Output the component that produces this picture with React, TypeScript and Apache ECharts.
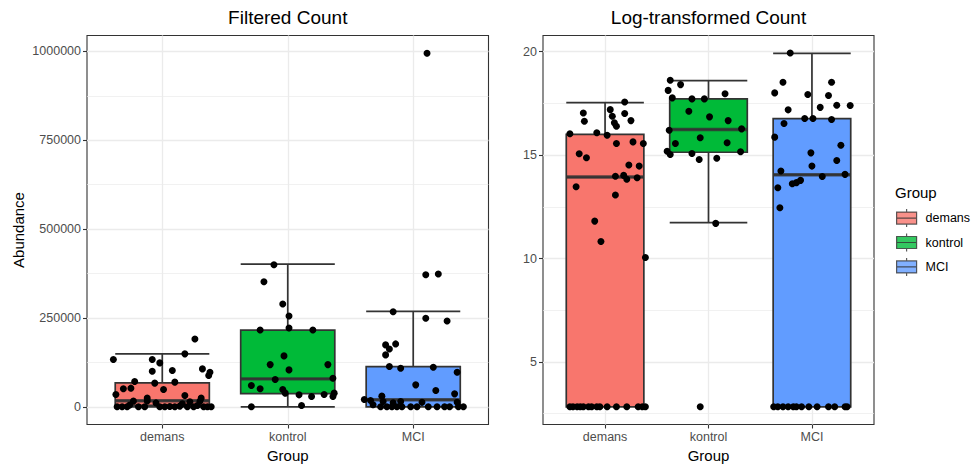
import React, { useEffect, useRef } from 'react';
import * as echarts from 'echarts';

const FONT = '"Liberation Sans", Arial, Helvetica, sans-serif';

const groups = ['demans', 'kontrol', 'MCI'];
const groupColors = ['#F8766D', '#00BA38', '#619CFF'];

// Y axis tick values
const filteredTicks = [0, 250000, 500000, 750000, 1000000];
const filteredMinor = [125000, 375000, 625000, 875000];
const logTicks = [5, 10, 15, 20];
const logMinor = [2.5, 7.5, 12.5, 17.5];

// Axis ranges (data range + 5% expansion)
const filteredRange = [-49750, 1044750];
const logRange = [1.9755, 20.7845];

// Box statistics [lower whisker, Q1, median, Q3, upper whisker]
const filteredBox = [
  [0, 4000, 16900, 67400, 149000],
  [0, 37400, 78700, 216000, 401700],
  [0, 0, 19700, 113000, 268800],
];
const logBox = [
  [2.83, 2.83, 13.94, 16.0, 17.54],
  [11.74, 15.14, 16.24, 17.72, 18.6],
  [2.83, 2.83, 14.05, 16.77, 19.92],
];

// Jittered points: [jitter offset, value]
const filteredDemans = [
  [0.26, 191000], [0.18, 149000], [-0.39, 133000], [-0.08, 133000], [-0.02, 123600],
  [-0.08, 100000], [0.08, 102000], [0.32, 106700], [0.38, 97500], [0.37, 88000],
  [-0.22, 71000], [-0.06, 66600], [0.1, 69400], [-0.31, 50600], [-0.25, 52500],
  [0.01, 48700], [-0.37, 34600], [-0.12, 24400], [0.18, 31800], [0.31, 24400],
  [-0.36, 0], [-0.28, 0], [-0.26, 5000], [-0.23, 16000], [-0.14, 0], [-0.12, 16500],
  [-0.02, 0], [0.02, 0], [0.06, 1000], [0.1, 0], [0.14, 2000], [0.2, 0], [0.22, 14500],
  [0.25, 0], [0.28, 3600], [0.3, 15500], [0.33, 0], [0.36, 0], [-0.32, 0], [-0.19, 0],
  [-0.05, 11000], [0.16, 8600], [0.39, 0],
];
const filteredKontrol = [
  [-0.11, 399700], [-0.19, 352000], [-0.04, 289300], [0.01, 255600], [-0.22, 216300],
  [0.01, 221900], [0.2, 216300], [-0.03, 143300], [-0.14, 118800], [0.01, 103900],
  [0.32, 118800], [-0.1, 76700], [0.36, 80600], [-0.29, 59800], [-0.22, 50600],
  [-0.04, 48600], [-0.02, 38500], [0.09, 33700], [0.19, 28900], [0.29, 34600],
  [0.37, 38500], [0.36, 28900], [-0.29, 0], [0.11, 3700],
];
const filteredMCI = [
  [0.11, 995000], [0.1, 371600], [0.2, 373600], [-0.16, 267700], [0.1, 249100],
  [0.27, 241600], [-0.22, 174200], [-0.14, 177000], [-0.19, 162900], [-0.22, 146100],
  [-0.19, 113200], [-0.1, 108700], [0.16, 111500], [0.35, 97500], [0.02, 61800],
  [0.18, 45800], [0.33, 36500], [-0.39, 20500], [-0.34, 17700], [-0.25, 30000],
  [-0.24, 15000], [-0.32, 5600], [-0.16, 11200], [-0.1, 15000], [0.07, 12600],
  [0.35, 13000], [-0.26, 0], [-0.21, 0], [-0.17, 0], [-0.13, 0], [-0.09, 0],
  [-0.02, 0], [0.03, 0], [0.12, 0], [0.19, 0], [0.25, 0], [0.29, 0], [0.36, 0], [0.4, 0],
];
const logDemans = [
  [0.19, 17.57], [0.05, 17.2], [-0.21, 17.04], [0.19, 17.01], [0.07, 16.88],
  [-0.2, 16.64], [0.25, 16.67], [0.09, 16.56], [0.11, 16.4], [-0.34, 16.03],
  [-0.08, 16.08], [0.02, 15.96], [0.11, 15.56], [0.27, 15.64], [0.37, 15.56],
  [-0.25, 15.07], [-0.18, 14.87], [0.23, 14.52], [0.33, 14.47], [0.1, 13.98],
  [0.18, 14.02], [0.21, 13.83], [0.31, 13.91], [-0.28, 13.47], [0.1, 13.07],
  [-0.1, 11.81], [-0.04, 10.82], [0.39, 10.05],
  [-0.34, 2.83], [-0.31, 2.83], [-0.27, 2.83], [-0.24, 2.83], [-0.21, 2.83],
  [-0.16, 2.83], [-0.13, 2.83], [-0.08, 2.83], [-0.05, 2.83], [0.02, 2.83],
  [0.11, 2.83], [0.21, 2.83], [0.32, 2.83], [0.36, 2.83], [0.39, 2.83],
];
const logKontrol = [
  [-0.37, 18.62], [-0.27, 18.41], [-0.39, 18.13], [-0.35, 17.77], [-0.16, 17.72],
  [-0.04, 17.72], [0.16, 17.97], [-0.19, 17.12], [0.01, 16.85], [0.19, 16.67],
  [-0.38, 16.2], [0.32, 16.27], [-0.08, 15.84], [-0.32, 15.56], [0.18, 15.6],
  [-0.4, 15.19], [-0.37, 15.03], [-0.16, 15.08], [0.31, 15.16], [-0.09, 14.79],
  [0.08, 14.85], [0.07, 11.7], [-0.08, 2.83],
];
const logMCI = [
  [-0.21, 19.94], [-0.28, 18.52], [0.19, 18.52], [-0.36, 18.01], [-0.04, 17.93],
  [0.16, 17.88], [-0.23, 17.19], [0.08, 17.31], [0.24, 17.41], [0.37, 17.4],
  [-0.07, 16.77], [0.01, 16.77], [0.19, 16.72], [-0.27, 16.53], [-0.36, 15.87],
  [0.28, 15.48], [-0.01, 15.11], [0.24, 14.74], [0.0, 14.47], [-0.3, 14.23],
  [0.1, 13.97], [0.32, 14.07], [-0.11, 13.78], [-0.19, 13.62], [-0.15, 13.67],
  [-0.33, 13.42], [-0.31, 12.46],
  [-0.37, 2.83], [-0.33, 2.83], [-0.28, 2.83], [-0.23, 2.83], [-0.18, 2.83],
  [-0.15, 2.83], [-0.1, 2.83], [-0.03, 2.83], [0.05, 2.83], [0.16, 2.83],
  [0.22, 2.83], [0.32, 2.83], [0.34, 2.83],
];

const filteredPoints = [filteredDemans, filteredKontrol, filteredMCI];
const logPoints = [logDemans, logKontrol, logMCI];

const tickLabel = { color: '#4D4D4D', fontSize: 12.5, fontFamily: FONT, margin: 6 };
const tickLine = { show: true, length: 4, lineStyle: { color: '#333333', width: 1.1 } };
const axisTitle = { fontSize: 15, color: '#000000', fontFamily: FONT };

function gridLineSeries(xIdx: number, yIdx: number, majors: number[], minors: number[]) {
  return {
    type: 'scatter',
    xAxisIndex: xIdx,
    yAxisIndex: yIdx,
    data: [],
    z: 1,
    silent: true,
    markLine: {
      silent: true,
      z: 1,
      symbol: ['none', 'none'],
      animation: false,
      label: { show: false },
      emphasis: { disabled: true },
      lineStyle: { color: '#EBEBEB', type: 'solid', width: 1.3 },
      data: [
        ...minors.map((v) => ({ yAxis: v, lineStyle: { color: '#EBEBEB', type: 'solid', width: 0.7 } })),
        ...majors.map((v) => ({ yAxis: v })),
        ...groups.map((_, i) => ({ xAxis: i + 1 })),
      ],
    },
  };
}

function boxSeries(xIdx: number, yIdx: number, stats: number[][], width: number) {
  return [
    {
      type: 'boxplot',
      xAxisIndex: xIdx,
      yAxisIndex: yIdx,
      silent: true,
      z: 2,
      boxWidth: [width, width],
      itemStyle: { borderColor: '#333333', borderWidth: 1.7 },
      emphasis: { disabled: true },
      data: stats.map((d, i) => ({ value: d, itemStyle: { color: groupColors[i], borderColor: '#333333', borderWidth: 1.7 } })),
    },
    {
      type: 'scatter',
      xAxisIndex: xIdx,
      yAxisIndex: yIdx,
      silent: true,
      z: 3,
      symbol: 'rect',
      symbolSize: [width, 3.4],
      itemStyle: { color: '#333333' },
      data: stats.map((d, i) => [groups[i], d[2]]),
    },
  ];
}

function pointSeries(xIdx: number, yIdx: number, pts: number[][][]) {
  const data: number[][] = [];
  pts.forEach((arr, gi) => arr.forEach(([j, v]) => data.push([gi + 1 + j, v])));
  return {
    type: 'scatter',
    xAxisIndex: xIdx,
    yAxisIndex: yIdx,
    silent: true,
    z: 4,
    symbol: 'circle',
    symbolSize: 7,
    itemStyle: { color: '#000000', opacity: 1 },
    data,
  };
}

function catAxis(gridIndex: number) {
  return {
    type: 'category',
    gridIndex,
    data: groups,
    boundaryGap: true,
    axisLine: { show: false, onZero: false },
    axisTick: { ...tickLine, alignWithLabel: true },
    axisLabel: { ...tickLabel, margin: 6 },
    splitLine: { show: false },
    name: 'Group',
    nameLocation: 'middle',
    nameGap: 23,
    nameTextStyle: axisTitle,
  };
}

export default function App() {
  const ref = useRef<HTMLDivElement>(null);

  useEffect(() => {
    document.body.style.margin = '0';
    if (!ref.current) return;
    const chart = echarts.init(ref.current, undefined, { renderer: 'svg' });

    const top = 35.5;
    const height = 389;
    const leftX = 87;
    const leftW = 401.5;
    const rightX = 543;
    const rightW = 331;
    const leftUnit = leftW / 3.2;
    const rightUnit = rightW / 3.2;

    const option: any = {
      animation: false,
      backgroundColor: '#FFFFFF',
      textStyle: { fontFamily: FONT },
      title: [
        { text: 'Filtered Count', left: leftX + leftW / 2, top: 8, padding: 0, textAlign: 'center', textStyle: { fontSize: 19, fontWeight: 'normal', color: '#000000', fontFamily: FONT } },
        { text: 'Log-transformed Count', left: rightX + rightW / 2, top: 8, padding: 0, textAlign: 'center', textStyle: { fontSize: 19, fontWeight: 'normal', color: '#000000', fontFamily: FONT } },
        { text: 'Group', left: 895, top: 185, padding: 0, textStyle: { fontSize: 15, fontWeight: 'normal', color: '#000000', fontFamily: FONT } },
      ],
      legend: {
        data: groups,
        orient: 'vertical',
        left: 896,
        top: 208.5,
        padding: 0,
        itemWidth: 20,
        itemHeight: 18,
        itemGap: 5.2,
        selectedMode: false,
        icon: 'path://M0,3L20,3L20,15L0,15Z M10,0L10,3 M10,15L10,18 M0,9L20,9',
        itemStyle: { borderColor: '#333333', borderWidth: 1.2 },
        textStyle: { fontSize: 12.5, color: '#000000', fontFamily: FONT, padding: [0, 0, 0, 4] },
      },
      grid: [
        { left: leftX, top, width: leftW, height, show: true, borderColor: '#333333', borderWidth: 1.1, backgroundColor: '#FFFFFF', outerBoundsMode: 'none' },
        { left: leftX + leftUnit * 0.1, top, width: leftUnit * 3, height, outerBoundsMode: 'none' },
        { left: rightX, top, width: rightW, height, show: true, borderColor: '#333333', borderWidth: 1.1, backgroundColor: '#FFFFFF', outerBoundsMode: 'none' },
        { left: rightX + rightUnit * 0.1, top, width: rightUnit * 3, height, outerBoundsMode: 'none' },
      ],
      xAxis: [
        { type: 'value', gridIndex: 0, min: 0.4, max: 3.6, show: false },
        catAxis(1),
        { type: 'value', gridIndex: 2, min: 0.4, max: 3.6, show: false },
        catAxis(3),
      ],
      yAxis: [
        {
          type: 'value', gridIndex: 0, min: filteredRange[0], max: filteredRange[1],
          axisLine: { show: false, onZero: false },
          axisTick: { ...tickLine, customValues: filteredTicks },
          axisLabel: { ...tickLabel, customValues: filteredTicks, formatter: (v: number) => String(v) },
          splitLine: { show: false },
          name: 'Abundance', nameLocation: 'middle', nameGap: 61, nameRotate: 90, nameTextStyle: axisTitle,
        },
        { type: 'value', gridIndex: 1, min: filteredRange[0], max: filteredRange[1], show: false, splitLine: { show: false } },
        {
          type: 'value', gridIndex: 2, min: logRange[0], max: logRange[1],
          axisLine: { show: false, onZero: false },
          axisTick: { ...tickLine, customValues: logTicks },
          axisLabel: { ...tickLabel, customValues: logTicks, formatter: (v: number) => String(v) },
          splitLine: { show: false },
        },
        { type: 'value', gridIndex: 3, min: logRange[0], max: logRange[1], show: false, splitLine: { show: false } },
      ],
      series: [
        gridLineSeries(0, 0, filteredTicks, filteredMinor),
        ...boxSeries(1, 1, filteredBox, leftUnit * 0.75),
        pointSeries(0, 0, filteredPoints),
        gridLineSeries(2, 2, logTicks, logMinor),
        ...boxSeries(3, 3, logBox, rightUnit * 0.75),
        pointSeries(2, 2, logPoints),
        ...groups.map((g, i) => ({
          type: 'scatter', name: g, xAxisIndex: 0, yAxisIndex: 0, data: [], itemStyle: { color: groupColors[i] },
        })),
      ],
    };

    chart.setOption(option);
    return () => chart.dispose();
  }, []);

  return <div ref={ref} style={{ width: 975, height: 470 }} />;
}
